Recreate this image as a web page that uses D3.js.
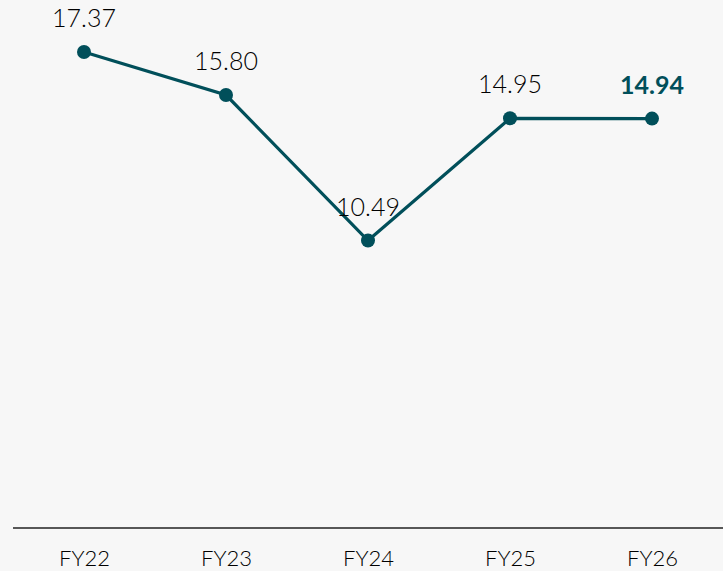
<!DOCTYPE html>
<html><head><meta charset="utf-8">
<script src="https://cdn.jsdelivr.net/npm/d3@7"></script>
<style>html,body{margin:0;padding:0;background:#f7f7f7;}svg{display:block;}</style>
</head><body><svg id="c" width="723" height="571"></svg>
<script>
const categories = ["FY22","FY23","FY24","FY25","FY26"];
const values = [17.37, 15.80, 10.49, 14.95, 14.94];
const valueLabels = ["17.37","15.80","10.49","14.95","14.94"];

const W = 723, H = 571;
const svg = d3.select("#c");
svg.append("rect").attr("width",W).attr("height",H).attr("fill","#f7f7f7");
const x = d3.scalePoint().domain(categories).range([13, 723]).padding(0.5);
const y = d3.scaleLinear().domain([0, 17.37]).range([528, 52]);
const teal = "#014f5a";
const font = "Lato, 'Open Sans', sans-serif";

const axis = d3.axisBottom(x).tickSize(0).tickPadding(22);
const g = svg.append("g").attr("transform", `translate(0,${y(0)})`).call(axis);
g.select(".domain").attr("stroke","#222").attr("stroke-width",1.3).attr("d","M13,0H723");
g.selectAll("text").attr("font-family",font).attr("font-size",22).attr("font-weight",300).attr("fill","#000");

const data = categories.map((c,i)=>({c, v: values[i], l: valueLabels[i], i}));
svg.append("path").datum(data)
  .attr("fill","none").attr("stroke",teal).attr("stroke-width",3.2)
  .attr("d", d3.line().x(d=>x(d.c)).y(d=>y(d.v)));
svg.selectAll("circle.p").data(data).enter().append("circle")
  .attr("cx",d=>x(d.c)).attr("cy",d=>y(d.v)).attr("r",7).attr("fill",teal);
svg.selectAll("text.v").data(data).enter().append("text")
  .attr("x",d=>x(d.c)).attr("y",d=>y(d.v)-25).attr("text-anchor","middle")
  .attr("font-family",font).attr("font-size",25)
  .attr("font-weight",d=>d.i===4?"bold":300)
  .attr("fill",d=>d.i===4?teal:"#000")
  .text(d=>d.l);
</script></body></html>
